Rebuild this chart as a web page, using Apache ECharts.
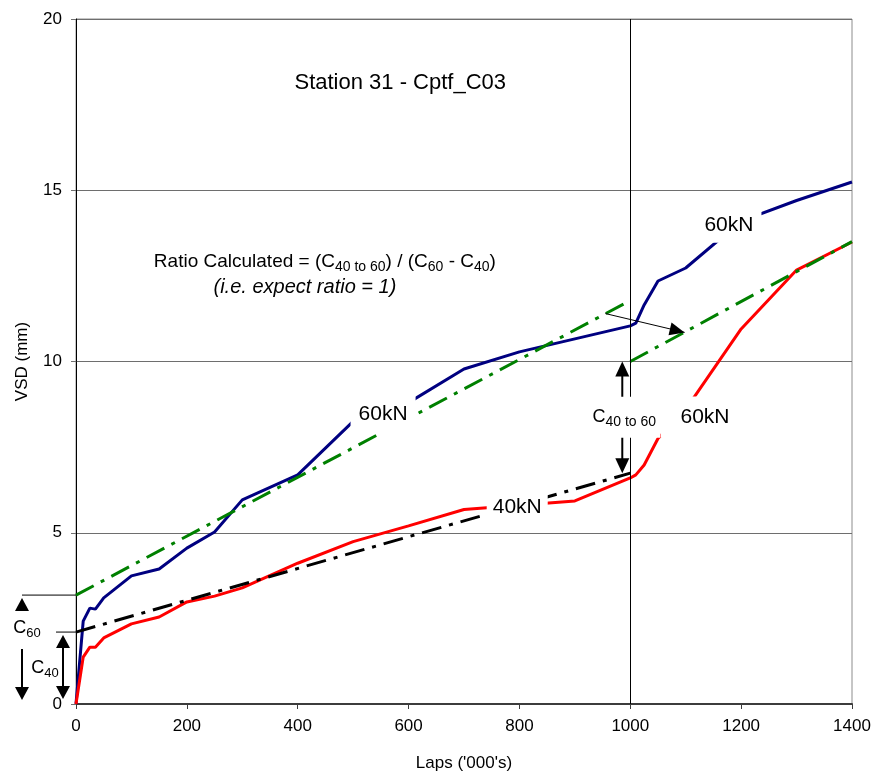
<!DOCTYPE html>
<html>
<head>
<meta charset="utf-8">
<script src="https://cdn.jsdelivr.net/npm/echarts@6/dist/echarts.min.js"></script>
<style>
  html, body { margin: 0; padding: 0; background: #fff; }
  #chart { width: 874px; height: 775px; }
</style>
</head>
<body>
<div id="chart"></div>
<script>
// Laps ('000's) at which VSD was measured
const laps = [0, 13, 25, 35, 50, 100, 150, 200, 250, 300, 400, 500, 600, 700, 800, 900, 1000, 1010, 1025, 1050, 1100, 1200, 1300, 1400];
// VSD (mm) under 60kN and 40kN loading
const vsd60kN = [0, 2.42, 2.8, 2.77, 3.1, 3.74, 3.94, 4.55, 5.02, 5.96, 6.69, 8.25, 8.8, 9.78, 10.28, 10.66, 11.04, 11.12, 11.65, 12.35, 12.73, 14.1, 14.7, 15.24];
const vsd40kN = [0, 1.37, 1.66, 1.66, 1.93, 2.34, 2.54, 2.98, 3.15, 3.39, 4.11, 4.74, 5.2, 5.68, 5.8, 5.93, 6.6, 6.69, 6.98, 7.75, 8.6, 10.95, 12.67, 13.49];

// Fitted trend lines
const trend60Laps = [0, 1000];
const trend60Vsd = [3.18, 11.78];
const trend60ShiftLaps = [1000, 1400];
const trend60ShiftVsd = [10.0, 13.5];
const trend40Laps = [0, 1000];
const trend40Vsd = [2.1, 6.74];

// Intercepts and offset used in the ratio annotation
const interceptC60 = 3.18;
const interceptC40 = 2.1;
const offsetLaps = 1000;
const offsetLow = 6.74;
const offsetHigh = 10.0;
const shiftFrom = [955, 11.4];
const shiftTo = [1098, 10.85];

// Axis ticks
const xTicks = { min: 0, max: 1400, step: 200 };
const yTicks = { min: 0, max: 20, step: 5 };

// Text placed in data coordinates
const chartTitle = { text: 'Station 31 - Cptf_C03', at: [585, 18.13] };
const loadTags = [
  { text: '60kN', at: [554, 8.47], pad: [6, 8, 12, 8] },
  { text: '60kN', at: [1178, 13.99], pad: [4, 8, 11, 8] },
  { text: '60kN', at: [1124, 8.38], pad: [10, 8, 10, 20] },
  { text: '40kN', at: [796, 5.75], pad: [8, 6, 8, 6] }
];
const ratioAt = [449, 12.9];
const ratioNoteAt = [413, 12.15];

const FONT = "'Liberation Sans', Arial, sans-serif";
const dashDot = [20, 8, 4, 8];
const pair = (xs, ys) => xs.map((x, i) => [x, ys[i]]);

const chart = echarts.init(document.getElementById('chart'), null, { renderer: 'canvas' });

chart.setOption({
  animation: false,
  backgroundColor: '#ffffff',
  textStyle: { fontFamily: FONT },
  grid: {
    left: 76, right: 22, top: 19, bottom: 71,
    outerBoundsMode: 'none',
    containLabel: false,
    show: true, borderColor: '#8c8c8c', borderWidth: 1, backgroundColor: 'transparent'
  },
  xAxis: {
    type: 'value',
    min: xTicks.min, max: xTicks.max, interval: xTicks.step,
    name: "Laps ('000's)",
    nameLocation: 'middle',
    nameGap: 51,
    nameTextStyle: { fontSize: 17, color: '#000', fontFamily: FONT },
    axisLine: { show: true, onZero: false, lineStyle: { color: '#3c3c3c', width: 2 } },
    axisTick: { show: true, length: 5, lineStyle: { color: '#3c3c3c', width: 1 } },
    axisLabel: { fontSize: 17, color: '#000', margin: 14, fontFamily: FONT, formatter: v => String(v) },
    splitLine: { show: false }
  },
  yAxis: {
    type: 'value',
    min: yTicks.min, max: yTicks.max, interval: yTicks.step,
    name: 'VSD (mm)',
    nameLocation: 'middle',
    nameGap: 45,
    nameTextStyle: { fontSize: 17, color: '#000', fontFamily: FONT },
    axisLine: { show: true, onZero: false, lineStyle: { color: '#000', width: 1 } },
    axisTick: { show: true, length: 5, lineStyle: { color: '#707070', width: 1 } },
    axisLabel: { fontSize: 17, color: '#000', margin: 14, fontFamily: FONT, formatter: v => String(v) },
    splitLine: { show: true, lineStyle: { color: '#6e6e6e', width: 1 } }
  },
  series: [
    {
      type: 'line', name: '60kN', data: pair(laps, vsd60kN),
      symbol: 'none', silent: true, z: 3,
      lineStyle: { color: '#000080', width: 3 },
      markLine: {
        silent: true, symbol: 'none', label: { show: false },
        lineStyle: { color: '#000', width: 1, type: 'solid' },
        emphasis: { disabled: true },
        data: [{ xAxis: offsetLaps }]
      }
    },
    {
      type: 'line', name: '40kN', data: pair(laps, vsd40kN),
      symbol: 'none', silent: true, z: 3,
      lineStyle: { color: '#ff0000', width: 3 }
    },
    {
      type: 'line', name: '60kN trend', data: pair(trend60Laps, trend60Vsd),
      symbol: 'none', silent: true, z: 4,
      lineStyle: { color: '#008000', width: 3, type: dashDot }
    },
    {
      type: 'line', name: '60kN trend shifted', data: pair(trend60ShiftLaps, trend60ShiftVsd),
      symbol: 'none', silent: true, z: 4,
      lineStyle: { color: '#008000', width: 3, type: dashDot }
    },
    {
      type: 'line', name: '40kN trend', data: pair(trend40Laps, trend40Vsd),
      symbol: 'none', silent: true, z: 4,
      lineStyle: { color: '#000000', width: 3, type: dashDot }
    }
  ]
});

// Annotation overlay: arrows, subscripted labels and load tags
function buildOverlay() {
  const P = (x, y) => chart.convertToPixel({ gridIndex: 0 }, [x, y]);
  const els = [];
  const subRich = (size, subSize) => ({
    n: { fontSize: size, fontFamily: FONT, fill: '#000', lineHeight: size + 5 },
    s: { fontSize: subSize, fontFamily: FONT, fill: '#000', lineHeight: Math.round(size * 0.62), verticalAlign: 'bottom' }
  });
  const line = (x1, y1, x2, y2, w) => els.push({
    type: 'line', z: 100, silent: true,
    shape: { x1, y1, x2, y2 }, style: { stroke: '#000', lineWidth: w }
  });
  const head = (tx, ty, fx, fy, len, half) => {
    const d = Math.hypot(tx - fx, ty - fy);
    const ux = (tx - fx) / d, uy = (ty - fy) / d;
    const bx = tx - ux * len, by = ty - uy * len;
    els.push({
      type: 'polygon', z: 100, silent: true,
      shape: { points: [[tx, ty], [bx - uy * half, by + ux * half], [bx + uy * half, by - ux * half]] },
      style: { fill: '#000' }
    });
  };
  const text = (x, y, str, style) => els.push({
    type: 'text', z: 101, silent: true, x, y,
    style: Object.assign({
      text: str, align: 'center', verticalAlign: 'middle',
      textAlign: 'center', textVerticalAlign: 'middle',
      fill: '#000', font: '17px ' + FONT
    }, style)
  });

  // Title and ratio note
  const t = P(chartTitle.at[0], chartTitle.at[1]);
  text(t[0], t[1], chartTitle.text, { font: '22px ' + FONT });
  const r = P(ratioAt[0], ratioAt[1]);
  text(r[0], r[1], '{n|Ratio Calculated = (C}{s|40 to 60}{n|) / (C}{s|60}{n| - C}{s|40}{n|)}', { rich: subRich(19, 14) });
  const rn = P(ratioNoteAt[0], ratioNoteAt[1]);
  text(rn[0], rn[1], '(i.e. expect ratio = 1)', { font: 'italic 20px ' + FONT });

  // C60 and C40 intercept markers left of the axis
  const [gl, y0] = P(0, 0);
  const yC60 = P(0, interceptC60)[1];
  const yC40 = P(0, interceptC40)[1];
  const xa = gl - 54;
  line(xa, yC60, gl, yC60, 1);
  head(xa, yC60 + 3, xa, yC60 + 20, 13, 7);
  text(gl - 49, yC60 + 33, '{n|C}{s|60}', { rich: subRich(18, 13) });
  line(xa, yC60 + 54, xa, y0 - 16, 2);
  head(xa, y0 - 4, xa, y0 - 20, 13, 7);

  const xb = gl - 13;
  line(gl - 20, yC40, gl, yC40, 1);
  head(xb, yC40 + 3, xb, yC40 + 20, 13, 7);
  head(xb, y0 - 5, xb, y0 - 20, 13, 7);
  line(xb, yC40 + 15, xb, y0 - 17, 2);
  text(gl - 31, (yC40 + y0) / 2, '{n|C}{s|40}', { rich: subRich(18, 13) });

  // Offset between the two 60kN trend lines at the load change
  const [xo, yHi] = P(offsetLaps, offsetHigh);
  const yLo = P(offsetLaps, offsetLow)[1];
  const xc = xo - 8;
  head(xc, yHi, xc, yHi + 20, 15, 7);
  line(xc, yHi + 14, xc, yHi + 37, 2);
  line(xc, yLo - 37, xc, yLo - 14, 2);
  head(xc, yLo, xc, yLo - 20, 15, 7);
  text(xc + 2, (yHi + yLo) / 2, '{n|C}{s|40 to 60}', {
    rich: subRich(18, 14), backgroundColor: '#fff', padding: [9, 4, 9, 4]
  });

  // Shift arrow from the 60kN trend to its shifted copy
  const a = P(shiftFrom[0], shiftFrom[1]);
  const b = P(shiftTo[0], shiftTo[1]);
  line(a[0], a[1], b[0], b[1], 1);
  head(b[0], b[1], a[0], a[1], 15, 6.5);

  // Load tags on white boxes
  loadTags.forEach(tag => {
    const p = P(tag.at[0], tag.at[1]);
    text(p[0], p[1], tag.text, { font: '21px ' + FONT, backgroundColor: '#fff', padding: tag.pad });
  });

  chart.setOption({ graphic: { elements: els } });
}

buildOverlay();
</script>
</body>
</html>
